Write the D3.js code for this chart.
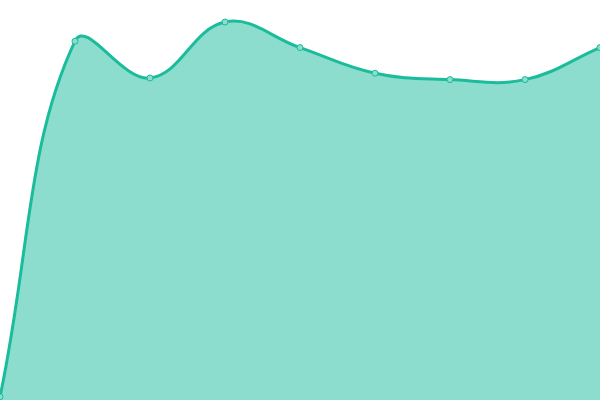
<!DOCTYPE html>
<html>
<head>
<meta charset="utf-8">
<script src="https://cdn.jsdelivr.net/npm/d3@7"></script>
<style>
  html, body { margin: 0; padding: 0; background: #fff; }
  svg { display: block; }
</style>
</head>
<body>
<svg id="chart" width="600" height="400"></svg>
<script>
// values (0..100 scale)
var labels = ["1", "2", "3", "4", "5", "6", "7", "8", "9"];
var values = [0.8, 89.7, 80.5, 94.5, 88.1, 81.7, 80.1, 80.1, 88.1];

var width = 600, height = 400;
var tension = 0.4;
var svg = d3.select("#chart");

var x = d3.scalePoint().domain(labels).range([0, width]);
var y = d3.scaleLinear().domain([0, 100]).range([height, 0]);

var pts = labels.map(function(l, i) {
  return { label: l, value: values[i], px: x(l), py: y(values[i]) };
});

// distance weighted spline control points (chart.js style)
pts.forEach(function(cur, i) {
  var prev = pts[i - 1] || cur, next = pts[i + 1] || cur;
  var d01 = Math.hypot(cur.px - prev.px, cur.py - prev.py);
  var d12 = Math.hypot(next.px - cur.px, next.py - cur.py);
  var s01 = d01 / (d01 + d12), s12 = d12 / (d01 + d12);
  if (isNaN(s01)) s01 = 0;
  if (isNaN(s12)) s12 = 0;
  var fa = tension * s01, fb = tension * s12;
  cur.c1x = cur.px - fa * (next.px - prev.px);
  cur.c1y = cur.py - fa * (next.py - prev.py);
  cur.c2x = cur.px + fb * (next.px - prev.px);
  cur.c2y = cur.py + fb * (next.py - prev.py);
  // keep control points inside the plot
  cur.c1x = Math.max(0, Math.min(width, cur.c1x));
  cur.c2x = Math.max(0, Math.min(width, cur.c2x));
  cur.c1y = Math.max(0, Math.min(height, cur.c1y));
  cur.c2y = Math.max(0, Math.min(height, cur.c2y));
});

function splinePath(p, closed) {
  for (var i = 0; i < pts.length; i++) {
    var d = pts[i];
    if (i == 0) p.moveTo(d.px, d.py);
    else {
      var a = pts[i - 1];
      p.bezierCurveTo(a.c2x, a.c2y, d.c1x, d.c1y, d.px, d.py);
    }
  }
  if (closed) {
    p.lineTo(pts[pts.length - 1].px, height);
    p.lineTo(pts[0].px, height);
    p.closePath();
  }
  return p;
}

svg.append("path")
    .attr("d", splinePath(d3.path(), true).toString())
    .attr("fill", "rgba(26,188,156,0.5)");

svg.append("path")
    .attr("d", splinePath(d3.path(), false).toString())
    .attr("fill", "none")
    .attr("stroke", "#1abc9c")
    .attr("stroke-width", 3);

svg.selectAll("circle.pt")
    .data(pts)
  .enter().append("circle")
    .attr("class", "pt")
    .attr("cx", function(d) { return d.px; })
    .attr("cy", function(d) { return d.py; })
    .attr("r", 3)
    .attr("fill", "#8cddcd")
    .attr("stroke", "#1abc9c")
    .attr("stroke-width", 1);
</script>
</body>
</html>
